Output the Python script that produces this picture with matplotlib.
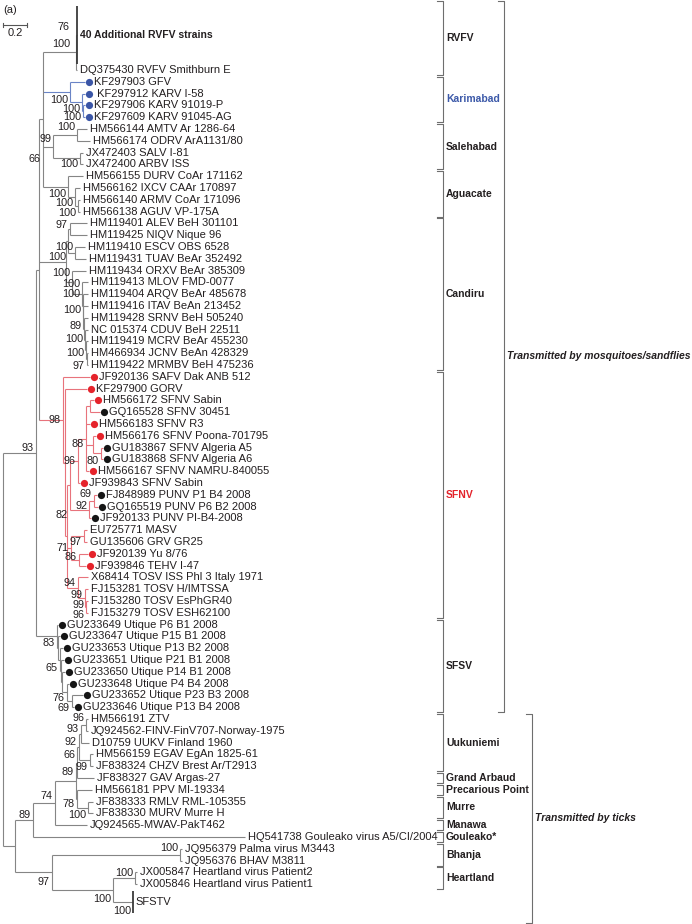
import matplotlib
matplotlib.use('Agg')
from matplotlib import pyplot as plt

plt.rcParams['font.family'] = ['Liberation Sans', 'DejaVu Sans']

# internal nodes: (name, parent, distance from root in substitutions/site)
mosquito_nodes = [
    ('n93', 'root', 0.275), ('nMos', 'n93', 0.300), ('n66', 'nMos', 0.333),
    ('nRV', 'n66', 0.608),
    ('nKar', 'n66', 0.558), ('nKar2', 'nKar', 0.658), ('nKar3', 'nKar2', 0.667),
    ('nSaleh', 'n66', 0.417), ('nAMTV', 'nSaleh', 0.617), ('nSALV', 'nSaleh', 0.642),
    ('nAgua', 'n66', 0.542), ('nAg2', 'nAgua', 0.600), ('nAg3', 'nAg2', 0.625),
    ('nCand', 'nMos', 0.525), ('nCa', 'nCand', 0.542), ('nALEV', 'nCa', 0.558),
    ('nESCV', 'nCa', 0.600), ('nCb', 'nCand', 0.575), ('nC2', 'nCb', 0.658),
    ('nC3', 'nC2', 0.663), ('nC4', 'nC3', 0.667), ('nC5', 'nC4', 0.675),
    ('nC6', 'nC5', 0.683), ('nC7', 'nC6', 0.692), ('nC8', 'nC7', 0.696),
]
sandfly_nodes = [
    ('nSFNV', 'nMos', 0.500), ('nG', 'nSFNV', 0.513), ('nNap', 'nG', 0.533),
    ('n82', 'nNap', 0.558), ('n96', 'n82', 0.625), ('n88', 'n96', 0.692),
    ('nSab', 'n88', 0.725), ('nPA', 'n88', 0.750), ('nAlg', 'nPA', 0.817),
    ('nPUN', 'n82', 0.717), ('nP69', 'nPUN', 0.758),
    ('n71', 'nNap', 0.567), ('nMASV', 'n71', 0.675), ('nYu', 'n71', 0.633),
    ('nT94', 'nNap', 0.625), ('nT99a', 'nT94', 0.683), ('nT99b', 'nT99a', 0.692),
    ('nSFSV', 'n93', 0.450), ('nSa', 'nSFSV', 0.458), ('nSb', 'nSa', 0.475),
    ('nSc', 'nSb', 0.483), ('nSd', 'nSc', 0.492), ('nSe', 'nSd', 0.533),
    ('nSf', 'nSe', 0.575),
]
tick_nodes = [
    ('nTick', 'root', 0.100), ('n89', 'nTick', 0.250), ('n74', 'n89', 0.433),
    ('n89b', 'n74', 0.608), ('n66u', 'n89b', 0.617), ('n92', 'n66u', 0.633),
    ('n93u', 'n92', 0.650), ('n96u', 'n93u', 0.692), ('nEG', 'n92', 0.725),
    ('nMur', 'n89b', 0.617), ('nRM', 'nMur', 0.708),
    ('n97', 'nTick', 0.408), ('nBh', 'n97', 1.475), ('nHS', 'n97', 0.917),
    ('nHL', 'nHS', 1.100),
]

# leaves, top to bottom: (label, parent, tip distance, dot colour)
rvfv_leaves = [
    ('40 Additional RVFV strains', 'nRV', 0.613, ''),
    ('DQ375430 RVFV Smithburn E', 'nRV', 0.617, ''),
]
karimabad_leaves = [
    ('KF297903 GFV', 'nKar', 0.683, 'b'),
    (' KF297912 KARV I-58', 'nKar2', 0.683, 'b'),
    ('KF297906 KARV 91019-P', 'nKar3', 0.683, 'b'),
    ('KF297609 KARV 91045-AG', 'nKar3', 0.683, 'b'),
]
salehabad_leaves = [
    ('HM566144 AMTV Ar 1286-64', 'nAMTV', 0.700, ''),
    ('HM566174 ODRV ArA1131/80', 'nAMTV', 0.725, ''),
    ('JX472403 SALV I-81', 'nSALV', 0.667, ''),
    ('JX472400 ARBV ISS', 'nSALV', 0.667, ''),
]
aguacate_leaves = [
    ('HM566155 DURV CoAr 171162', 'nAgua', 0.667, ''),
    ('HM566162 IXCV CAAr 170897', 'nAg2', 0.642, ''),
    ('HM566140 ARMV CoAr 171096', 'nAg3', 0.642, ''),
    ('HM566138 AGUV VP-175A', 'nAg3', 0.642, ''),
]
candiru_leaves = [
    ('HM119401 ALEV BeH 301101', 'nALEV', 0.704, ''),
    ('HM119425 NIQV Nique 96', 'nALEV', 0.704, ''),
    ('HM119410 ESCV OBS 6528', 'nESCV', 0.683, ''),
    ('HM119431 TUAV BeAr 352492', 'nESCV', 0.692, ''),
    ('HM119434 ORXV BeAr 385309', 'nCb', 0.692, ''),
    ('HM119413 MLOV FMD-0077', 'nC2', 0.708, ''),
    ('HM119404 ARQV BeAr 485678', 'nC3', 0.708, ''),
    ('HM119416 ITAV BeAn 213452', 'nC4', 0.708, ''),
    ('HM119428 SRNV BeH 505240', 'nC5', 0.708, ''),
    ('NC 015374 CDUV BeH 22511', 'nC6', 0.708, ''),
    ('HM119419 MCRV BeAr 455230', 'nC7', 0.708, ''),
    ('HM466934 JCNV BeAn 428329', 'nC8', 0.708, ''),
    ('HM119422 MRMBV BeH 475236', 'nC8', 0.708, ''),
]
sfnv_leaves = [
    ('JF920136 SAFV Dak ANB 512', 'nSFNV', 0.725, 'r'),
    ('KF297900 GORV', 'nG', 0.700, 'r'),
    ('HM566172 SFNV Sabin', 'nSab', 0.758, 'r'),
    ('GQ165528 SFNV 30451', 'nSab', 0.808, 'k'),
    ('HM566183 SFNV R3', 'n88', 0.725, 'r'),
    ('HM566176 SFNV Poona-701795', 'nPA', 0.775, 'r'),
    ('GU183867 SFNV Algeria A5', 'nAlg', 0.833, 'k'),
    ('GU183868 SFNV Algeria A6', 'nAlg', 0.833, 'k'),
    ('HM566167 SFNV NAMRU-840055', 'n88', 0.717, 'r'),
    ('JF939843 SFNV Sabin', 'n96', 0.642, 'r'),
    ('FJ848989 PUNV P1 B4 2008', 'nP69', 0.783, 'k'),
    ('GQ165519 PUNV P6 B2 2008', 'nP69', 0.792, 'k'),
    ('JF920133 PUNV PI-B4-2008', 'nPUN', 0.733, 'k'),
    ('EU725771 MASV', 'nMASV', 0.700, ''),
    ('GU135606 GRV GR25', 'nMASV', 0.700, ''),
    ('JF920139 Yu 8/76', 'nYu', 0.708, 'r'),
    ('JF939846 TEHV I-47', 'nYu', 0.692, 'r'),
    ('X68414 TOSV ISS Phl 3 Italy 1971', 'nT94', 0.708, ''),
    ('FJ153281 TOSV H/IMTSSA', 'nT99a', 0.708, ''),
    ('FJ153280 TOSV EsPhGR40', 'nT99b', 0.708, ''),
    ('FJ153279 TOSV ESH62100', 'nT99b', 0.708, ''),
]
sfsv_leaves = [
    ('GU233649 Utique P6 B1 2008', 'nSFSV', 0.458, 'k'),
    ('GU233647 Utique P15 B1 2008', 'nSa', 0.475, 'k'),
    ('GU233653 Utique P13 B2 2008', 'nSb', 0.500, 'k'),
    ('GU233651 Utique P21 B1 2008', 'nSc', 0.508, 'k'),
    ('GU233650 Utique P14 B1 2008', 'nSd', 0.517, 'k'),
    ('GU233648 Utique P4 B4 2008', 'nSe', 0.550, 'k'),
    ('GU233652 Utique P23 B3 2008', 'nSf', 0.667, 'k'),
    ('GU233646 Utique P13 B4 2008', 'nSf', 0.592, 'k'),
]
tick_leaves = [
    ('HM566191 ZTV', 'n96u', 0.708, ''),
    ('JQ924562-FINV-FinV707-Norway-1975', 'n96u', 0.708, ''),
    ('D10759 UUKV Finland 1960', 'n93u', 0.717, ''),
    ('HM566159 EGAV EgAn 1825-61', 'nEG', 0.750, ''),
    ('JF838324 CHZV Brest Ar/T2913', 'nEG', 0.750, ''),
    ('JF838327 GAV Argas-27', 'n66u', 0.758, ''),
    ('HM566181 PPV MI-19334', 'nMur', 0.742, ''),
    ('JF838333 RMLV RML-105355', 'nRM', 0.750, ''),
    ('JF838330 MURV Murre H', 'nRM', 0.750, ''),
    ('JQ924565-MWAV-PakT462', 'n74', 0.700, ''),
    ('HQ541738 Gouleako virus A5/CI/2004', 'n89', 2.017, ''),
    ('JQ956379 Palma virus M3443', 'nBh', 1.492, ''),
    ('JQ956376 BHAV M3811', 'nBh', 1.492, ''),
    ('JX005847 Heartland virus Patient2', 'nHL', 1.117, ''),
    ('JX005846 Heartland virus Patient1', 'nHL', 1.117, ''),
    ('SFSTV', 'nHS', 1.083, ''),
]
# collapsed clades and the number of rows they take
collapsed = {'40 Additional RVFV strains': 5, 'SFSTV': 2}

# bootstrap values: (node, value)
bootstrap = [
    ('nRV', '76'), ('nRV', '100'), ('nKar', '100'), ('nKar2', '100'), ('nKar3', '100'),
    ('n66', '66'), ('nSaleh', '99'), ('nAMTV', '100'), ('nSALV', '100'),
    ('nAgua', '100'), ('nAg2', '100'), ('nAg3', '100'), ('nALEV', '97'), ('nESCV', '100'),
    ('nCa', '100'), ('nCb', '100'), ('nC2', '100'), ('nC3', '100'), ('nC4', '100'),
    ('nC5', '89'), ('nC6', '100'), ('nC7', '100'), ('nC8', '97'),
    ('nSFNV', '98'), ('n88', '88'), ('nAlg', '80'), ('n96', '96'), ('nP69', '69'),
    ('nPUN', '92'), ('n82', '82'), ('nMASV', '97'), ('n71', '71'), ('nYu', '86'),
    ('nT94', '94'), ('nT99a', '99'), ('nT99b', '99'), ('nT99b', '96'), ('n93', '93'),
    ('nSFSV', '83'), ('nSb', '65'), ('nSe', '76'), ('nSf', '69'),
    ('n96u', '96'), ('n93u', '93'), ('n92', '92'), ('nEG', '99'), ('n66u', '66'),
    ('n89b', '89'), ('nMur', '78'), ('nRM', '100'), ('n74', '74'), ('n89', '89'),
    ('n97', '97'), ('nBh', '100'), ('nHL', '100'), ('nHS', '100'), ('SFSTV', '100'),
]
# vertical nudge of each bootstrap label (pixels)
boot_dy = [-25, -8, 8, 6.5, 6, 40, -8, -8, 5.5, 7.5, 6, 7, -4, -6, 16, -9, -10, -12, -7,
           -3, -1, 3, 7, 0, 5.5, 7, 0, -7, -4, 30, 6, 0, -3, -5, -3.5, -2, 8, -5,
           7, 8, 6, 7, -7, -5, -5, 7, -7.5, -8.6, 5, 8, -7, -5, 10, -7, -5.5, 9, 9]
boot_dx = {('nRV', '76'): -4, ('nRV', '100'): -4}

# clades: name, first leaf, last leaf
clade_names = ['RVFV', 'Karimabad', 'Salehabad', 'Aguacate', 'Candiru', 'SFNV', 'SFSV',
               'Uukuniemi', 'Grand Arbaud', 'Precarious Point', 'Murre', 'Manawa',
               'Gouleako*', 'Bhanja', 'Heartland']
clade_first = ['40 Additional RVFV strains', 'KF297903 GFV', 'HM566144 AMTV Ar 1286-64',
               'HM566155 DURV CoAr 171162', 'HM119401 ALEV BeH 301101',
               'JF920136 SAFV Dak ANB 512', 'GU233649 Utique P6 B1 2008', 'HM566191 ZTV',
               'JF838327 GAV Argas-27', 'HM566181 PPV MI-19334', 'JF838333 RMLV RML-105355',
               'JQ924565-MWAV-PakT462', 'HQ541738 Gouleako virus A5/CI/2004',
               'JQ956379 Palma virus M3443', 'JX005847 Heartland virus Patient2']
clade_last = ['DQ375430 RVFV Smithburn E', 'KF297609 KARV 91045-AG', 'JX472400 ARBV ISS',
              'HM566138 AGUV VP-175A', 'HM119422 MRMBV BeH 475236', 'FJ153279 TOSV ESH62100',
              'GU233646 Utique P13 B4 2008', 'JF838324 CHZV Brest Ar/T2913',
              'JF838327 GAV Argas-27', 'HM566181 PPV MI-19334', 'JF838330 MURV Murre H',
              'JQ924565-MWAV-PakT462', 'HQ541738 Gouleako virus A5/CI/2004',
              'JQ956376 BHAV M3811', 'JX005846 Heartland virus Patient1']
groups = ['Transmitted by mosquitoes/sandflies', 'Transmitted by ticks']
group_first = ['40 Additional RVFV strains', 'HM566191 ZTV']
group_last = ['GU233646 Utique P13 B4 2008', 'SFSTV']

# ---- layout / style
PX = 120.0     # pixels per substitution/site
ROW = 11.8     # pixels per leaf row
X0, Y0 = 3, 70  # pixel position of root / first regular leaf
GRAY, BLUE_L, RED_L = '#858585', '#6a84c6', '#e8737c'
TXT = '#231f20'
dot_col = {'b': '#3a55a6', 'r': '#e5232b', 'k': '#151515'}
branch_col = {'nKar': BLUE_L, 'nSFNV': RED_L}
clade_col = {'Karimabad': '#3d5aa9', 'SFNV': '#e3232b'}
FS = 8


def px_x(px):
    return (px - X0) / PX


leaves = (rvfv_leaves + karimabad_leaves + salehabad_leaves + aguacate_leaves +
          candiru_leaves + sfnv_leaves + sfsv_leaves + tick_leaves)
parent = {'root': None}
depth = {'root': 0.0}
children = {}
for name, par, d in mosquito_nodes + sandfly_nodes + tick_nodes:
    parent[name] = par
    depth[name] = d
for name, par, d, dot in leaves:
    parent[name] = par
    depth[name] = d
for name, par in parent.items():
    if par is not None:
        children.setdefault(par, []).append(name)

ypos = {}
row = -5
for name, par, d, dot in leaves:
    span = collapsed.get(name, 1)
    ypos[name] = row + (span - 1) / 2
    row += span


def node_y(n):
    if n not in ypos:
        ys = [node_y(c) for c in children[n]]
        ypos[n] = (min(ys) + max(ys)) / 2
    return ypos[n]


node_y('root')


def colour(n):
    while n is not None:
        if n in branch_col:
            return branch_col[n]
        n = parent[n]
    return GRAY


fig = plt.figure(figsize=(6.92, 9.24), dpi=100)
ax = fig.add_axes([0, 0, 1, 1])
ax.set_xlim(px_x(0), px_x(692))
ax.set_ylim((924 - Y0) / ROW, (0 - Y0) / ROW)
ax.axis('off')
lw = 0.8

# branches
for n, par in parent.items():
    if par is None:
        continue
    ax.plot([depth[par], depth[n]], [ypos[n], ypos[n]], color=colour(n), lw=lw,
            solid_capstyle='butt')
for n, kids in children.items():
    ys = [ypos[c] for c in kids]
    ax.plot([depth[n], depth[n]], [min(ys), max(ys)], color=colour(n), lw=lw,
            solid_capstyle='butt')

# leaves
for name, par, d, dot in leaves:
    y = ypos[name]
    if name in collapsed:
        h = collapsed[name] / 2 - 0.05
        ax.plot([d, d], [y - h, y + h], color='#3a3a3a', lw=1.3, solid_capstyle='butt')
    tx = d + 3 / PX
    if dot:
        ax.plot(d + 4 / PX, y, 'o', ms=5.2, color=dot_col[dot], mec='none')
        tx = d + 9 / PX
    bold = name == '40 Additional RVFV strains'
    ax.text(tx, y, name, fontsize=7.5 if bold else FS, fontweight='bold' if bold else 'normal',
            ha='left', va='center', color=TXT)

# bootstrap support
for (n, val), dy in zip(bootstrap, boot_dy):
    dx = boot_dx.get((n, val), 0)
    ax.text(depth[n] + (dx - 2) / PX, ypos[n] + dy / ROW, val, fontsize=7.8, ha='right',
            va='center', color=TXT)

# clade brackets
bx, tk = px_x(443), 6 / PX
for name, a, b in zip(clade_names, clade_first, clade_last):
    top = ypos[a] - collapsed.get(a, 1) / 2 + 0.08
    bot = ypos[b] + collapsed.get(b, 1) / 2 - 0.08
    if name == 'RVFV':
        top -= 0.45
    ax.plot([bx - tk, bx, bx, bx - tk], [top, top, bot, bot], color='#6e6e6e', lw=lw)
    ax.text(px_x(446), (top + bot) / 2, name, fontsize=7.5, fontweight='bold',
            ha='left', va='center', color=clade_col.get(name, TXT))

# transmission groups
for i, (name, a, b) in enumerate(zip(groups, group_first, group_last)):
    gx = px_x([504, 532][i])
    top = ypos[a] - collapsed.get(a, 1) / 2 + 0.08 - [0.45, 0][i]
    bot = ypos[b] + collapsed.get(b, 1) / 2 - 0.08 + [0, 0.85][i]
    ax.plot([gx - tk, gx, gx, gx - tk], [top, top, bot, bot], color='#6e6e6e', lw=lw)
    ax.text(gx + 3 / PX, (top + bot) / 2, name, fontsize=7.5, fontweight='bold',
            style='italic', ha='left', va='center', color=TXT)

# scale bar
sy = (25 - Y0) / ROW
ax.plot([0, 0.2], [sy, sy], color='#555555', lw=lw)
for sx in (0, 0.2):
    ax.plot([sx, sx], [sy - 0.2, sy + 0.2], color='#555555', lw=lw)
ax.text(0.1, (33 - Y0) / ROW, '0.2', fontsize=FS, ha='center', va='center', color=TXT)
ax.text(0, (10 - Y0) / ROW, '(a)', fontsize=FS, ha='left', va='center', color=TXT)

fig.savefig('out.png', dpi=100)
